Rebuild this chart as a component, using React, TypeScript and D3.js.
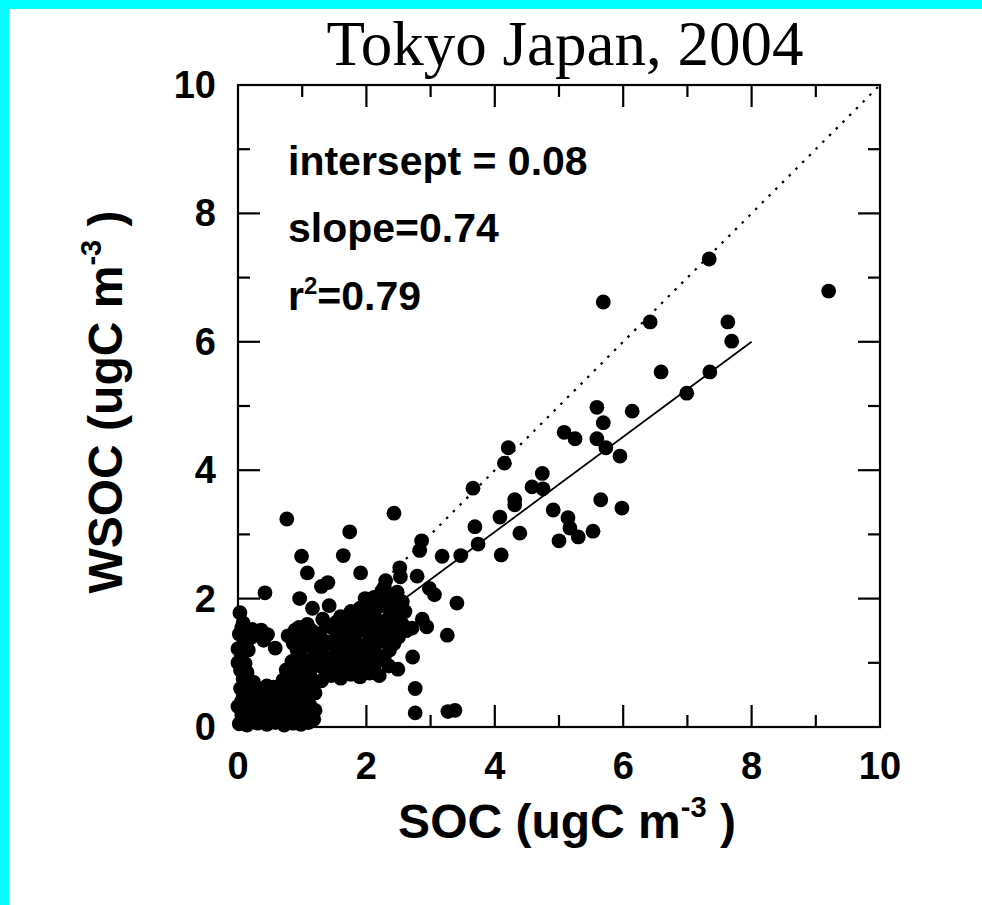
import React from 'react';
import * as d3 from 'd3';

// Regression summary printed on the chart and used for the fitted line
const FIT_INTERCEPT = 0.08;
const FIT_SLOPE = 0.74;
const FIT_R2 = 0.79;
const FIT_X_MAX = 8;

const AXIS_DOMAIN: [number, number] = [0, 10];
const MAJOR_TICKS = [0, 2, 4, 6, 8, 10];
const ALL_TICKS = [1, 2, 3, 4, 5, 6, 7, 8, 9];

// Dense cluster of low-concentration samples
const lowSamples: [number, number][] = [
  [0.02, 0.05], [0.14, 0.03], [0.3, 0.06], [0.45, 0.04], [0.58, 0.07], [0.72, 0.03], [0.86, 0.06], [0.98, 0.04], [1.1, 0.07],
  [0.08, 0.11], [0.38, 0.11], [0.65, 0.12], [0.92, 0.1], [1.18, 0.12],
  [0.06, 0.18], [0.22, 0.2], [0.36, 0.16], [0.52, 0.19], [0.66, 0.17], [0.8, 0.2], [0.93, 0.16], [1.05, 0.19], [1.16, 0.17],
  [0.2, 0.25], [0.48, 0.26], [0.72, 0.24], [1.0, 0.25], [1.2, 0.26],
  [0.0, 0.32], [0.12, 0.3], [0.28, 0.33], [0.41, 0.31], [0.6, 0.34], [0.75, 0.3], [0.88, 0.33], [1.0, 0.31], [1.12, 0.34],
  [0.05, 0.39], [0.3, 0.4], [0.55, 0.39], [0.8, 0.38], [1.05, 0.4],
  [0.08, 0.46], [0.2, 0.44], [0.34, 0.47], [0.5, 0.45], [0.68, 0.48], [0.82, 0.44], [0.95, 0.47], [1.08, 0.45],
  [0.12, 0.53], [0.42, 0.53], [0.72, 0.54], [0.98, 0.52], [1.2, 0.53],
  [0.04, 0.6], [0.16, 0.58], [0.3, 0.61], [0.62, 0.59], [0.77, 0.62], [0.9, 0.58], [1.02, 0.61], [1.14, 0.59],
  [0.45, 0.64], [0.55, 0.62],
  [0.1, 0.72], [0.24, 0.7], [0.7, 0.73], [0.85, 0.71], [0.97, 0.74], [1.1, 0.72],
  [0.8, 0.84], [0.96, 0.86], [1.12, 0.82],
  [0.08, 0.75], [0.14, 0.85], [0.04, 0.88], [0.0, 1.0], [0.11, 0.99], [0.05, 1.1], [0.0, 1.22], [0.16, 1.2],
  [0.12, 1.32], [0.2, 1.39], [0.02, 1.45], [0.12, 1.5], [0.06, 1.55], [0.08, 1.62], [0.03, 1.78],
  [0.36, 1.51], [0.28, 1.45], [0.46, 1.44], [0.4, 1.35], [0.22, 1.52], [0.58, 1.23], [0.42, 2.09],
  [0.89, 1.51], [1.04, 1.43], [1.14, 1.25], [0.98, 1.09], [0.86, 1.3], [1.0, 0.95], [1.16, 1.06], [0.75, 0.89],
  [0.92, 1.2], [1.2, 1.4], [1.08, 1.6], [0.84, 1.02],
  [0.78, 1.42], [0.95, 1.35], [1.1, 0.98], [1.2, 1.18], [0.95, 1.55], [1.15, 1.5], [1.0, 1.25],
];

// Main band of mid-range samples
const midSamples: [number, number][] = [
  [1.3, 0.72], [1.28, 0.95], [1.3, 1.2], [1.27, 1.45],
  [1.37, 0.84], [1.37, 1.08], [1.37, 1.33], [1.37, 1.57],
  [1.45, 0.8], [1.47, 1.05], [1.44, 1.3], [1.46, 1.55],
  [1.53, 0.9], [1.53, 1.15], [1.53, 1.4], [1.53, 1.63],
  [1.6, 0.76], [1.62, 1.0], [1.59, 1.25], [1.61, 1.5], [1.6, 1.72],
  [1.68, 0.88], [1.68, 1.14], [1.68, 1.4], [1.68, 1.66],
  [1.76, 0.82], [1.74, 1.08], [1.77, 1.34], [1.75, 1.6], [1.76, 1.8],
  [1.83, 0.92], [1.83, 1.18], [1.83, 1.45], [1.83, 1.7],
  [1.9, 0.78], [1.92, 1.02], [1.89, 1.28], [1.91, 1.55], [1.9, 1.85],
  [1.98, 0.95], [1.98, 1.22], [1.98, 1.5], [1.98, 1.78], [1.98, 2.0],
  [2.05, 0.84], [2.04, 1.1], [2.06, 1.38], [2.03, 1.65], [2.07, 1.95],
  [2.12, 0.92], [2.12, 1.2], [2.12, 1.48], [2.12, 1.76], [2.12, 2.02],
  [2.2, 0.8], [2.21, 1.05], [2.19, 1.32], [2.22, 1.6], [2.2, 1.88], [2.24, 2.12], [2.3, 2.28],
  [2.28, 1.1], [2.28, 1.38], [2.28, 1.64], [2.28, 1.92], [2.28, 2.18],
  [2.35, 0.95], [2.36, 1.2], [2.34, 1.48], [2.37, 1.75], [2.35, 2.0],
  [2.43, 1.3], [2.43, 1.58], [2.43, 1.84], [2.43, 2.05],
  [2.5, 1.4], [2.49, 1.65], [2.51, 1.9], [2.48, 2.1],
  [2.56, 1.6], [2.56, 1.95],
  [2.62, 1.5], [2.6, 1.8],
  [1.39, 0.89], [1.64, 0.86],
  [0.96, 2.0], [0.99, 2.66], [1.08, 2.4], [1.3, 2.19], [1.4, 2.25], [1.42, 1.89], [1.16, 1.85], [1.32, 1.68],
  [1.64, 2.67], [1.91, 2.4], [0.76, 3.24], [1.74, 3.04], [2.43, 3.33],
  [2.86, 2.9], [2.83, 2.75], [2.52, 2.48], [2.53, 2.34], [2.79, 2.35], [2.98, 2.16], [3.06, 2.06],
  [2.87, 1.68], [2.94, 1.56], [2.71, 1.54], [2.72, 1.09], [2.49, 0.9], [2.76, 0.6], [2.76, 0.22],
  [3.27, 0.24], [3.38, 0.26], [3.18, 2.66], [3.47, 2.67], [3.41, 1.93], [3.26, 1.43],
];

// Higher-concentration samples
const highSamples: [number, number][] = [
  [3.66, 3.72], [3.69, 3.12], [3.74, 2.85], [4.15, 4.11], [4.21, 4.35], [4.1, 2.68], [4.39, 3.02],
  [4.08, 3.27], [4.31, 3.54], [4.31, 3.46], [4.58, 3.74], [4.74, 3.95], [4.75, 3.71], [4.91, 3.38],
  [5.14, 3.26], [5.17, 3.1], [5.3, 2.96], [5.0, 2.9], [5.53, 3.05], [5.65, 3.54], [5.98, 3.41],
  [5.08, 4.59], [5.25, 4.49], [5.59, 4.49], [5.73, 4.35], [5.95, 4.22], [5.69, 4.74], [5.59, 4.98],
  [6.14, 4.92], [6.99, 5.2], [6.59, 5.53], [7.35, 5.53], [7.69, 6.01], [7.63, 6.31], [6.42, 6.31],
  [5.69, 6.62], [7.34, 7.29], [9.2, 6.79],
];

const samples = [...lowSamples, ...midSamples, ...highSamples];

const W = 982;
const H = 905;
const PLOT = { left: 238, right: 880, top: 85, bottom: 727 };

const sans = '"Liberation Sans", Arial, Helvetica, sans-serif';
const serif = '"Liberation Serif", "Times New Roman", serif';

export default function App() {
  const x = d3.scaleLinear().domain(AXIS_DOMAIN).range([PLOT.left, PLOT.right]);
  const y = d3.scaleLinear().domain(AXIS_DOMAIN).range([PLOT.bottom, PLOT.top]);
  const line = d3.line<[number, number]>().x(d => x(d[0])).y(d => y(d[1]));

  const identity: [number, number][] = [[0, 0], [10, 10]];
  const fit: [number, number][] = [
    [0, FIT_INTERCEPT],
    [FIT_X_MAX, FIT_INTERCEPT + FIT_SLOPE * FIT_X_MAX],
  ];

  const tickLen = (t: number) => (t % 2 === 0 ? 22 : 12);

  return (
    <div style={{ position: 'absolute', left: 0, top: 0 }}>
      <svg width={W} height={H} style={{ display: 'block' }}>
        <rect x={0} y={0} width={W} height={H} fill="#ffffff" />
        <rect x={0} y={0} width={W} height={9} fill="#00ffff" />
        <rect x={0} y={0} width={9} height={H} fill="#00ffff" />

        <text x={565} y={65} textAnchor="middle" fontFamily={serif} fontSize={63} fill="#000">
          Tokyo Japan, 2004
        </text>

        {/* 1:1 reference */}
        <path d={line(identity) ?? ''} fill="none" stroke="#000" strokeWidth={2.2} strokeDasharray="2.5 7" />

        {samples.map((d, i) => (
          <circle key={i} cx={x(d[0])} cy={y(d[1])} r={7.4} fill="#000" />
        ))}

        {/* regression fit */}
        <path d={line(fit) ?? ''} fill="none" stroke="#000" strokeWidth={1.8} />

        <rect
          x={PLOT.left}
          y={PLOT.top}
          width={PLOT.right - PLOT.left}
          height={PLOT.bottom - PLOT.top}
          fill="none"
          stroke="#000"
          strokeWidth={2.2}
        />

        {ALL_TICKS.map(t => (
          <g key={t} stroke="#000" strokeWidth={2.2}>
            <line x1={x(t)} x2={x(t)} y1={PLOT.bottom} y2={PLOT.bottom - tickLen(t)} />
            <line x1={x(t)} x2={x(t)} y1={PLOT.top} y2={PLOT.top + tickLen(t)} />
            <line x1={PLOT.left} x2={PLOT.left + tickLen(t)} y1={y(t)} y2={y(t)} />
            <line x1={PLOT.right} x2={PLOT.right - tickLen(t)} y1={y(t)} y2={y(t)} />
          </g>
        ))}

        {MAJOR_TICKS.map(t => (
          <text key={'x' + t} x={x(t)} y={779} textAnchor="middle" fontFamily={sans} fontWeight="bold" fontSize={38} fill="#000">
            {t}
          </text>
        ))}
        {MAJOR_TICKS.map(t => (
          <text key={'y' + t} x={216} y={y(t) + 13} textAnchor="end" fontFamily={sans} fontWeight="bold" fontSize={38} fill="#000">
            {t}
          </text>
        ))}

        <g fontFamily={sans} fontWeight="bold" fontSize={41} fill="#000">
          <text x={288} y={175}>{`intersept = ${FIT_INTERCEPT.toFixed(2)}`}</text>
          <text x={288} y={242}>{`slope=${FIT_SLOPE.toFixed(2)}`}</text>
          <text x={288} y={310}>
            r<tspan dy={-16} fontSize={24}>2</tspan>
            <tspan dy={16}>{`=${FIT_R2.toFixed(2)}`}</tspan>
          </text>
        </g>

        <text x={567} y={838} textAnchor="middle" fontFamily={sans} fontWeight="bold" fontSize={48} fill="#000">
          SOC (ugC m<tspan dy={-21} fontSize={29}>-3</tspan>
          <tspan dy={21}> )</tspan>
        </text>

        <text
          transform="translate(122,402) rotate(-90)"
          textAnchor="middle"
          fontFamily={sans}
          fontWeight="bold"
          fontSize={48}
          fill="#000"
        >
          WSOC (ugC m<tspan dy={-21} fontSize={29}>-3</tspan>
          <tspan dy={21}> )</tspan>
        </text>
      </svg>
    </div>
  );
}
